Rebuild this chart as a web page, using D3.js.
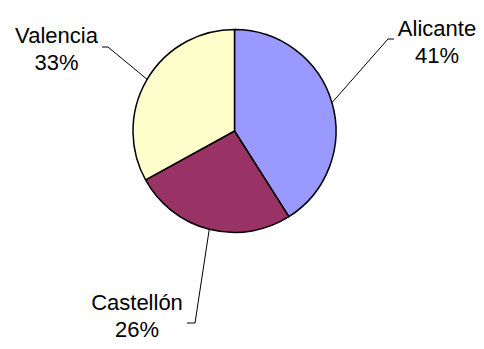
<!DOCTYPE html>
<html>
<head>
<meta charset="utf-8">
<script src="https://cdn.jsdelivr.net/npm/d3@7"></script>
<style>
  html, body { margin: 0; padding: 0; background: #ffffff; }
  svg { display: block; }
  text { font-family: Arial, "Liberation Sans", sans-serif; font-size: 22px; fill: #000; }
</style>
</head>
<body>
<svg id="chart" width="484" height="349"></svg>
<script>
// Share of the total by province
const categories = ["Alicante", "Castellón", "Valencia"];
const shares = [41, 26, 33];
const percentLabels = ["41%", "26%", "33%"];
const sliceColors = ["#9999FF", "#993366", "#FFFFCC"];

// Where each label block sits and where its leader line bends
const labelLayout = [
  { x: 437, y: 36, elbow: [388, 39], end: [394, 39] },
  { x: 137, y: 310, elbow: [195, 323], end: [187, 323] },
  { x: 56.5, y: 43, elbow: [108, 47], end: [102, 47] }
];

const width = 484, height = 349;
const cx = 234.5, cy = 131, radius = 101.5;

const svg = d3.select("#chart");
const g = svg.append("g").attr("transform", `translate(${cx},${cy})`);

const pie = d3.pie().sort(null).value(d => d)
  .startAngle(0).endAngle(2 * Math.PI);
const arcs = pie(shares);
const arc = d3.arc().innerRadius(0).outerRadius(radius);

g.selectAll("path.slice")
  .data(arcs)
  .enter().append("path")
  .attr("class", "slice")
  .attr("d", arc)
  .attr("fill", (d, i) => sliceColors[i])
  .attr("stroke", "#000")
  .attr("stroke-width", 1.5)
  .attr("stroke-linejoin", "round");

// Leader lines: start on the rim at each slice's middle angle
const line = d3.line();
arcs.forEach((d, i) => {
  const a = (d.startAngle + d.endAngle) / 2;
  const sx = cx + radius * Math.sin(a);
  const sy = cy - radius * Math.cos(a);
  const L = labelLayout[i];
  svg.append("path")
    .attr("d", line([[sx, sy], L.elbow, L.end]))
    .attr("fill", "none")
    .attr("stroke", "#000")
    .attr("stroke-width", 1);
});

// Category name with its percentage underneath
arcs.forEach((d, i) => {
  const L = labelLayout[i];
  const t = svg.append("text")
    .attr("text-anchor", "middle")
    .attr("x", L.x)
    .attr("y", L.y);
  t.append("tspan").attr("x", L.x).text(categories[i]);
  t.append("tspan").attr("x", L.x).attr("dy", 27).text(percentLabels[i]);
});
</script>
</body>
</html>
